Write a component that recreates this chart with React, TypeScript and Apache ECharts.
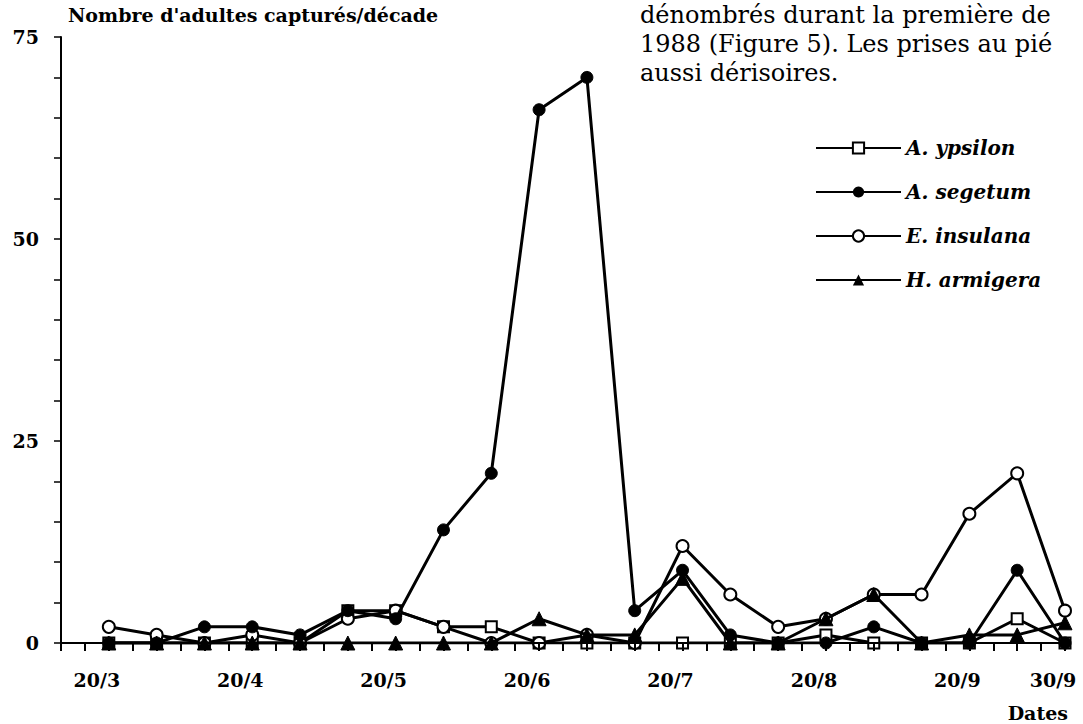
import React, { useEffect, useRef } from "react";
import * as echarts from "echarts";

// x positions are decade indices (0 = 20/3)
const xIndex = [0, 1, 2, 3, 4, 5, 6, 7, 8, 9, 10, 11, 12, 13, 14, 15, 16, 17, 18, 19, 20];
const xLabelPos = [0, 3, 6, 9, 12, 15, 18, 20];
const xLabels = ["20/3", "20/4", "20/5", "20/6", "20/7", "20/8", "20/9", "30/9"];
const yLabelValues = [0, 25, 50, 75];

const seriesNames = ["A. ypsilon", "A. segetum", "E. insulana", "H. armigera"];
const ypsilon = [0, 0, 0, 0, 0, 4, 4, 2, 2, 0, 0, 0, 0, 0, 0, 1, 0, 0, 0, 3, 0];
const segetum = [0, 0, 2, 2, 1, 4, 3, 14, 21, 66, 70, 4, 9, 1, 0, 0, 2, 0, 0, 9, 0];
const insulana = [2, 1, 0, 1, 0, 3, 4, 2, 0, 0, 1, 0, 12, 6, 2, 3, 6, 6, 16, 21, 4];
const armigera = [0, 0, 0, 0, 0, 0, 0, 0, 0, 3, 1, 1, 8, 0, 0, 3, 6, 0, 1, 1, 2.5];

const paragraph = [
  "dénombrés durant la première de",
  "1988 (Figure 5). Les prises au pié",
  "aussi dérisoires.",
];

const FONT = '"DejaVu Serif", serif';

export default function App() {
  const ref = useRef<HTMLDivElement>(null);
  useEffect(() => {
    document.body.style.margin = "0";
    const chart = echarts.init(ref.current!, null, { renderer: "svg" });
    const pair = (arr: number[]) => arr.map((v, i) => [xIndex[i], v]);
    const lineStyle = { color: "#000", width: 3 };
    const tickStyle = { color: "#000", width: 1.5 };
    const option: any = {
      animation: false,
      backgroundColor: "#fff",
      grid: { left: 61, right: 18, top: 37, bottom: 81, containLabel: false },
      xAxis: {
        type: "value",
        position: "bottom",
        min: -1,
        max: 20,
        interval: 0.5,
        splitLine: { show: false },
        axisLine: { show: true, onZero: false, lineStyle: { color: "#000", width: 2 } },
        axisTick: { show: true, inside: false, length: 8, lineStyle: { color: "#000", width: 2, type: "solid" } },
        axisLabel: {
          show: true,
          margin: 27,
          color: "#000",
          fontFamily: FONT,
          fontWeight: "bold",
          fontSize: 19,
          formatter: (v: number) => {
            const k = xLabelPos.indexOf(v);
            return k >= 0 ? "{a|" + xLabels[k] + "}" : "";
          },
          rich: {
            a: {
              color: "#000",
              fontFamily: FONT,
              fontWeight: "bold",
              fontSize: 19,
              padding: [0, 24, 0, 0],
            },
          },
        },
        z: 10,
      },
      yAxis: {
        type: "value",
        min: 0,
        max: 75,
        interval: 5,
        splitLine: { show: false },
        axisLine: { show: true, onZero: false, lineStyle: { color: "#000", width: 2 } },
        axisTick: { show: true, inside: false, length: 7, lineStyle: tickStyle },
        axisLabel: {
          margin: 22,
          color: "#000",
          fontFamily: FONT,
          fontWeight: "bold",
          fontSize: 19,
          formatter: (v: number) => (yLabelValues.indexOf(v) >= 0 ? String(v) : ""),
        },
      },
      legend: {
        data: seriesNames,
        orient: "vertical",
        left: 810,
        top: 133,
        itemWidth: 85,
        itemHeight: 14,
        itemGap: 24,
        textStyle: {
          color: "#000",
          fontFamily: FONT,
          fontWeight: "bold",
          fontStyle: "italic",
          fontSize: 20,
        },
      },
      graphic: [
        {
          type: "text",
          x: 68,
          y: 15,
          style: { text: "Nombre d'adultes capturés/décade", font: `bold 19px ${FONT}`, fill: "#000", verticalAlign: "middle" },
        },
        {
          type: "text",
          x: 1068,
          y: 713,
          style: { text: "Dates", font: `bold 19px ${FONT}`, fill: "#000", align: "right", verticalAlign: "middle" },
        },
        ...paragraph.map((t, i) => ({
          type: "text",
          x: 640,
          y: 15 + i * 29,
          style: { text: t, font: `24px ${FONT}`, fill: "#000", verticalAlign: "middle" },
        })),
      ],
      series: [
        {
          name: seriesNames[0],
          type: "line",
          data: pair(ypsilon),
          symbol: "rect",
          symbolSize: 11,
          lineStyle,
          itemStyle: { color: "#fff", borderColor: "#000", borderWidth: 2 },
          z: 2,
        },
        {
          name: seriesNames[2],
          type: "line",
          data: pair(insulana),
          symbol: "circle",
          symbolSize: 12,
          lineStyle,
          itemStyle: { color: "#fff", borderColor: "#000", borderWidth: 2 },
          z: 3,
        },
        {
          name: seriesNames[1],
          type: "line",
          data: pair(segetum),
          symbol: "circle",
          symbolSize: 12,
          lineStyle,
          itemStyle: { color: "#000", borderColor: "#000" },
          z: 4,
        },
        {
          name: seriesNames[3],
          type: "line",
          data: pair(armigera),
          symbol: "triangle",
          symbolSize: 14,
          lineStyle,
          itemStyle: { color: "#000", borderColor: "#000" },
          z: 5,
        },
      ],
    };
    chart.setOption(option);
    return () => chart.dispose();
  }, []);
  return <div ref={ref} style={{ width: 1083, height: 724, overflow: "hidden" }} />;
}
